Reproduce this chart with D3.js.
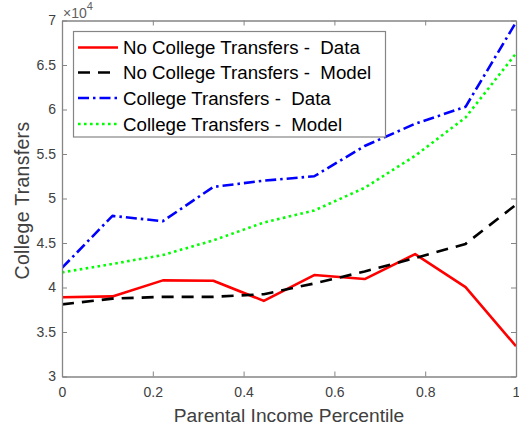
<!DOCTYPE html>
<html><head><meta charset="utf-8">
<script src="https://cdn.jsdelivr.net/npm/d3@7"></script>
<style>
html,body{margin:0;padding:0;background:#fff;}
svg{display:block;font-family:"Liberation Sans",Arial,sans-serif;}
svg text{white-space:pre;}
</style></head>
<body>
<svg id="chart" width="519" height="430"></svg>
<script>
const xValues = [0, 1/9, 2/9, 3/9, 4/9, 5/9, 6/9, 7/9, 8/9, 1];
const noCollegeData  = [38900, 39000, 40800, 40750, 38500, 41400, 40950, 43750, 40050, 33400];
const noCollegeModel = [38100, 38750, 38950, 38950, 39250, 40450, 41800, 43300, 44900, 49300];
const collegeData    = [42200, 48050, 47450, 51300, 52000, 52500, 55900, 58400, 60300, 69800];
const collegeModel   = [41700, 42650, 43650, 45300, 47300, 48650, 51200, 54800, 59100, 66300];
const seriesNames = ["No College Transfers -  Data", "No College Transfers -  Model", "College Transfers -  Data", "College Transfers -  Model"];
const xTicks = [0, 0.2, 0.4, 0.6, 0.8, 1];
const yTicks = [30000, 35000, 40000, 45000, 50000, 55000, 60000, 65000, 70000];

const series = [
  {name: seriesNames[0], values: noCollegeData,  color: "#ff0000", dash: null,        width: 2.6},
  {name: seriesNames[1], values: noCollegeModel, color: "#000000", dash: "12,8",      width: 2.6},
  {name: seriesNames[2], values: collegeData,    color: "#0000ff", dash: "11,4,2.5,4", width: 2.6},
  {name: seriesNames[3], values: collegeModel,   color: "#00ff00", dash: "2.6,3.4",   width: 2.6}
];

const svg = d3.select("#chart");
const L = 62, R = 516, T = 20.5, B = 376.5;
const x = d3.scaleLinear().domain([0, 1]).range([L, R]);
const y = d3.scaleLinear().domain([30000, 70000]).range([B, T]);
const axisColor = "#858585";
const textColor = "#404040";

svg.append("defs").append("clipPath").attr("id", "clip")
  .append("rect").attr("x", L).attr("y", T).attr("width", R - L).attr("height", B - T);

const line = d3.line().x((d, i) => x(xValues[i])).y(d => y(d));
const g = svg.append("g").attr("clip-path", "url(#clip)");
series.forEach(s => {
  g.append("path").datum(s.values)
    .attr("d", line).attr("fill", "none")
    .attr("stroke", s.color).attr("stroke-width", s.width)
    .attr("stroke-dasharray", s.dash)
    .attr("stroke-linejoin", "round");
});

const tick = 5;
const xb = svg.append("g").attr("transform", `translate(0,${B})`)
  .call(d3.axisBottom(x).tickValues(xTicks).tickSizeInner(-tick).tickSizeOuter(0).tickPadding(11).tickFormat(d3.format("")));
const xt = svg.append("g").attr("transform", `translate(0,${T})`)
  .call(d3.axisTop(x).tickValues(xTicks).tickSizeInner(-tick).tickSizeOuter(0).tickFormat(""));
const yl = svg.append("g").attr("transform", `translate(${L},0)`)
  .call(d3.axisLeft(y).tickValues(yTicks).tickSizeInner(-tick).tickSizeOuter(0).tickPadding(6).tickFormat(d => d3.format("")(d / 10000)));
const yr = svg.append("g").attr("transform", `translate(${R},0)`)
  .call(d3.axisRight(y).tickValues(yTicks).tickSizeInner(-tick).tickSizeOuter(0).tickFormat(""));
[xb, xt, yl, yr].forEach(a => {
  a.selectAll(".domain").attr("stroke", axisColor).attr("stroke-width", 1.3);
  a.selectAll(".tick line").attr("stroke", axisColor).attr("stroke-width", 1);
  a.selectAll(".tick text").attr("fill", textColor).attr("font-size", 14)
    .attr("font-family", "Liberation Sans, Arial, sans-serif");
});
xb.selectAll(".tick text").attr("dy", "0.71em");

const ex = svg.append("text").attr("x", L + 1).attr("y", 18).attr("fill", "#606060")
  .attr("font-size", 14);
ex.append("tspan").text("\u00d710");
ex.append("tspan").attr("font-size", 11).attr("dy", -8).text("4");

svg.append("text").attr("x", (L + R) / 2).attr("y", 422)
  .attr("text-anchor", "middle").attr("fill", textColor).attr("font-size", 19.2)
  .text("Parental Income Percentile");
svg.append("text").attr("transform", `translate(29,${(T + B) / 2 + 2}) rotate(-90)`)
  .attr("text-anchor", "middle").attr("fill", textColor).attr("font-size", 19.5)
  .attr("letter-spacing", 0.3)
  .text("College Transfers");

const lg = svg.append("g");
lg.append("rect").attr("x", 73.5).attr("y", 31.5).attr("width", 312).attr("height", 105.5)
  .attr("fill", "#fff").attr("stroke", axisColor).attr("stroke-width", 1.2);
const rowY = [47.5, 72.5, 98, 124];
series.forEach((s, i) => {
  lg.append("line").attr("x1", 78).attr("x2", 118).attr("y1", rowY[i]).attr("y2", rowY[i])
    .attr("stroke", s.color).attr("stroke-width", s.width).attr("stroke-dasharray", s.dash);
  lg.append("text").attr("x", 123).attr("y", rowY[i]).attr("dy", "0.35em")
    .attr("fill", "#000").attr("font-size", 18.7).text(s.name);
});
</script>
</body></html>
